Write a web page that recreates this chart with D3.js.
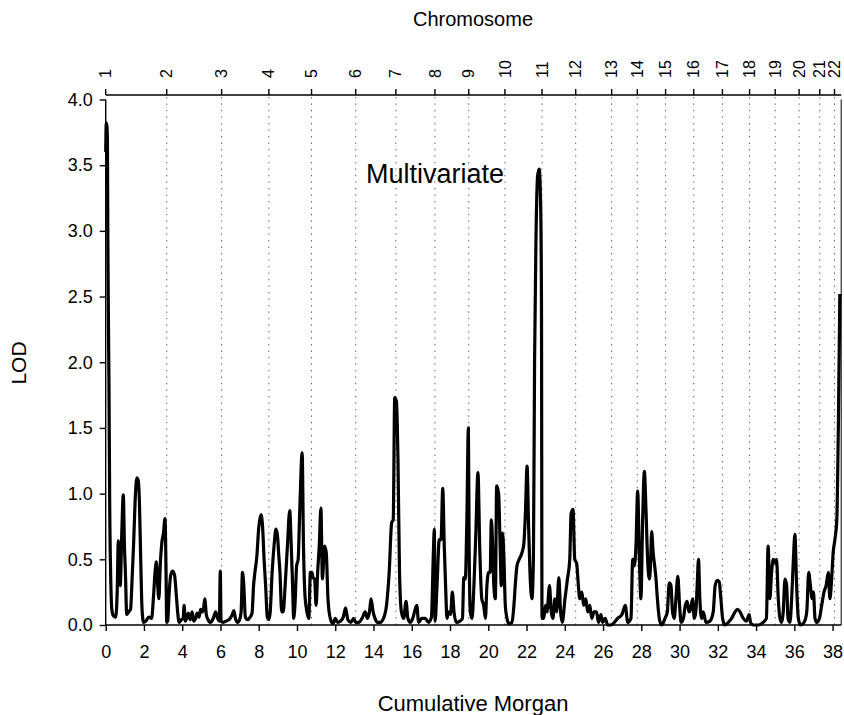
<!DOCTYPE html>
<html><head><meta charset="utf-8">
<script src="https://cdn.jsdelivr.net/npm/d3@7"></script>
<style>
body{margin:0;background:#fff;}
svg text{font-family:"Liberation Sans",Arial,Helvetica,sans-serif;fill:#000;}
</style></head>
<body>
<svg id="chart" width="844" height="715"></svg>
<script>
// ---- data ----
const chromosomes = ["1","2","3","4","5","6","7","8","9","10","11","12","13","14","15","16","17","18","19","20","21","22"];
const chromStarts = [0,3.19,6.06,8.53,10.76,13.07,15.17,17.21,18.98,20.87,22.81,24.57,26.45,27.79,29.27,30.74,32.24,33.66,35.0,36.25,37.33,38.10];
const xTicks = [0,2,4,6,8,10,12,14,16,18,20,22,24,26,28,30,32,34,36,38];
const yTicks = [0,0.5,1,1.5,2,2.5,3,3.5,4];
const morgan = [
0.00,0.03,0.06,0.09,0.11,0.13,0.17,0.21,0.26,0.32,0.40,0.52,0.60,0.66,0.71,0.76,0.84,0.92,0.98,1.03,1.10,1.20,1.30,1.38,1.46,1.54,1.63,1.70,1.76,1.83,1.90,1.98,2.10,2.25,2.40,2.50,2.58,2.65,2.72,2.78,2.85,2.93,3.02,3.10,3.15,3.19,
3.24,3.32,3.40,3.50,3.60,3.68,3.76,3.84,3.95,4.05,4.10,4.16,4.25,4.32,4.42,4.52,4.60,4.70,4.78,4.88,4.96,5.05,5.12,5.18,5.26,5.35,5.48,5.62,5.75,5.85,5.94,5.99,6.03,
6.15,6.30,6.50,6.62,6.70,6.78,6.88,7.00,7.08,7.15,7.22,7.30,7.42,7.55,7.65,7.73,7.80,7.90,8.00,8.12,8.20,8.28,8.36,8.45,8.53,
8.60,8.70,8.80,8.90,8.98,9.04,9.11,9.20,9.28,9.38,9.50,9.62,9.70,9.76,9.83,9.91,9.98,10.06,10.15,10.27,10.34,10.42,10.52,10.62,
10.70,10.78,10.84,10.92,11.00,11.08,11.17,11.25,11.33,11.44,11.53,11.62,11.74,11.88,12.00,12.12,12.28,12.42,12.54,12.66,12.82,12.96,13.07,
13.22,13.40,13.57,13.68,13.80,13.87,13.98,14.08,14.20,14.35,14.52,14.68,14.82,14.95,15.03,15.11,15.20,15.28,15.36,15.46,15.58,15.70,15.80,15.92,16.05,16.26,16.36,16.52,16.70,16.88,17.03,17.12,17.18,17.22,
17.32,17.44,17.53,17.62,17.70,17.78,17.84,17.92,18.03,18.12,18.21,18.32,18.52,18.65,18.72,18.80,18.88,18.96,19.00,
19.06,19.15,19.25,19.35,19.46,19.56,19.66,19.76,19.85,19.93,20.02,20.10,20.16,20.23,20.29,20.37,20.44,20.54,20.62,20.68,20.75,20.82,20.89,
20.98,21.06,21.24,21.34,21.42,21.50,21.62,21.76,21.86,21.94,22.03,22.10,22.18,22.28,22.36,22.42,22.49,22.58,22.66,22.73,22.78,22.81,
22.90,22.99,23.07,23.20,23.29,23.38,23.48,23.57,23.69,23.78,23.87,24.01,24.14,24.26,24.33,24.43,24.52,24.62,24.71,24.78,24.89,24.99,25.10,25.20,25.31,25.41,25.53,25.66,25.76,25.89,25.98,26.11,26.24,26.41,
26.59,26.76,26.99,27.16,27.29,27.46,27.55,27.63,27.72,27.81,27.90,27.98,28.07,28.16,28.24,28.33,28.42,28.48,28.54,28.62,28.70,28.77,28.84,28.94,29.06,29.24,29.36,29.46,29.55,29.63,29.72,29.81,29.91,30.00,30.08,
30.20,30.30,30.40,30.49,30.58,30.68,30.77,30.85,30.92,30.99,31.06,31.15,31.24,31.38,31.59,31.76,31.86,31.97,32.07,32.16,32.25,32.37,32.55,32.72,32.90,33.02,33.16,33.33,33.50,33.64,33.71,33.85,34.11,34.37,34.54,
34.63,34.72,34.81,34.90,34.99,35.07,35.16,35.25,35.34,35.42,35.51,35.60,35.67,35.77,35.86,35.95,36.03,36.12,36.21,36.33,36.51,36.65,36.75,36.84,36.93,37.00,37.08,37.17,37.31,37.43,37.55,37.66,37.78,37.86,37.95,38.03,38.12,38.22,38.30,38.38
];
const lod = [
3.60,3.82,3.80,3.70,3.00,2.55,1.85,0.90,0.38,0.12,0.07,0.06,0.25,0.64,0.45,0.30,0.70,0.99,0.60,0.40,0.08,0.10,0.12,0.35,0.62,0.95,1.12,1.10,0.95,0.50,0.12,0.02,0.03,0.06,0.05,0.22,0.40,0.48,0.30,0.20,0.45,0.62,0.70,0.81,0.45,0.02,
0.03,0.25,0.38,0.41,0.38,0.25,0.10,0.02,0.04,0.05,0.15,0.03,0.06,0.09,0.04,0.10,0.03,0.05,0.09,0.06,0.12,0.10,0.13,0.20,0.08,0.04,0.02,0.05,0.10,0.05,0.03,0.41,0.03,
0.02,0.03,0.05,0.08,0.11,0.05,0.02,0.04,0.10,0.40,0.30,0.06,0.04,0.06,0.09,0.30,0.40,0.52,0.74,0.84,0.75,0.50,0.30,0.06,0.04,
0.10,0.40,0.60,0.73,0.68,0.55,0.40,0.10,0.10,0.30,0.60,0.87,0.60,0.35,0.05,0.20,0.45,0.50,0.90,1.31,0.60,0.22,0.10,0.05,
0.40,0.40,0.36,0.35,0.15,0.40,0.62,0.89,0.35,0.60,0.55,0.20,0.05,0.01,0.05,0.02,0.03,0.06,0.13,0.04,0.02,0.05,0.02,
0.02,0.05,0.10,0.05,0.11,0.20,0.10,0.05,0.02,0.02,0.05,0.15,0.40,0.78,0.80,1.73,1.70,1.25,0.40,0.10,0.05,0.18,0.05,0.02,0.05,0.15,0.02,0.05,0.05,0.02,0.06,0.50,0.73,0.03,
0.30,0.65,0.65,1.04,0.60,0.25,0.05,0.10,0.08,0.25,0.10,0.02,0.03,0.05,0.36,0.35,0.80,1.50,0.60,
0.10,0.05,0.30,0.70,1.16,0.55,0.20,0.15,0.05,0.30,0.40,0.40,0.80,0.60,0.30,0.20,1.06,1.00,0.60,0.30,0.70,0.50,0.15,
0.05,0.01,0.02,0.15,0.32,0.45,0.50,0.55,0.62,0.85,1.21,0.80,0.40,0.20,0.50,2.00,2.90,3.42,3.47,3.25,2.50,0.05,
0.05,0.15,0.10,0.30,0.10,0.05,0.20,0.10,0.36,0.10,0.02,0.20,0.35,0.50,0.85,0.88,0.50,0.47,0.30,0.20,0.25,0.15,0.20,0.10,0.15,0.05,0.10,0.10,0.02,0.08,0.02,0.05,0.00,0.00,
0.02,0.05,0.08,0.15,0.02,0.05,0.50,0.45,0.60,1.02,0.50,0.20,0.80,1.17,0.90,0.50,0.35,0.45,0.71,0.55,0.45,0.35,0.20,0.05,0.00,0.05,0.10,0.32,0.30,0.10,0.05,0.20,0.37,0.15,0.02,
0.05,0.15,0.18,0.10,0.12,0.20,0.05,0.10,0.30,0.50,0.20,0.05,0.10,0.02,0.03,0.10,0.30,0.34,0.33,0.20,0.05,0.00,0.02,0.05,0.10,0.12,0.10,0.05,0.03,0.08,0.02,0.00,0.00,0.02,0.05,
0.60,0.20,0.40,0.50,0.47,0.50,0.20,0.05,0.02,0.10,0.35,0.30,0.05,0.02,0.20,0.50,0.69,0.30,0.05,0.00,0.02,0.10,0.40,0.30,0.20,0.25,0.05,0.02,0.05,0.15,0.25,0.30,0.40,0.20,0.35,0.55,0.65,0.80,1.50,2.52
];

// ---- chart ----
const svg = d3.select("#chart");
const x = d3.scaleLinear().domain([0, 38.45]).range([105.7, 841.2]);
const y = d3.scaleLinear().domain([0, 4]).range([625, 99.5]);
const topY = 95;
const font = "Liberation Sans, Arial, sans-serif";

// chromosome dotted lines
svg.append("g").selectAll("line").data(chromStarts.slice(1)).join("line")
  .attr("x1", d => x(d)).attr("x2", d => x(d))
  .attr("y1", topY + 2).attr("y2", y(0))
  .attr("stroke", "#555").attr("stroke-width", 1)
  .attr("stroke-dasharray", "1.3,5.2");

// right frame line
svg.append("line").attr("x1", x(38.45)).attr("x2", x(38.45))
  .attr("y1", y(4)).attr("y2", y(0)).attr("stroke", "#000").attr("stroke-width", 1);

// left axis
const yAxis = d3.axisLeft(y).tickValues(yTicks).tickFormat(d3.format(".1f")).tickSize(6).tickPadding(7);
const gy = svg.append("g").attr("transform", `translate(${x(0)},0)`).call(yAxis);
gy.select(".domain").remove();
gy.append("line").attr("y1", y(4)).attr("y2", y(0)).attr("stroke", "#000").attr("stroke-width", 1.4);
gy.selectAll("text").attr("font-size", 18).attr("font-family", font);
gy.selectAll(".tick line").attr("stroke-width", 1.4);

// bottom axis
const xAxis = d3.axisBottom(x).tickValues(xTicks).tickFormat(d3.format("d")).tickSize(6).tickPadding(14);
const gx = svg.append("g").attr("transform", `translate(0,${y(0)})`).call(xAxis);
gx.select(".domain").remove();
gx.append("line").attr("x1", x(0)).attr("x2", x(38.45)).attr("stroke", "#000").attr("stroke-width", 1.4);
gx.selectAll("text").attr("font-size", 18).attr("font-family", font);
gx.selectAll(".tick line").attr("stroke-width", 1.4);

// top chromosome axis
const topScale = d3.scaleOrdinal().domain(chromosomes).range(chromStarts.map(d => x(d)));
const gt = svg.append("g");
gt.append("line").attr("x1", x(0)).attr("x2", x(38.45)).attr("y1", topY).attr("y2", topY)
  .attr("stroke", "#000").attr("stroke-width", 1.4);
gt.selectAll("line.t").data(chromosomes).join("line").attr("class","t")
  .attr("x1", d => topScale(d)).attr("x2", d => topScale(d))
  .attr("y1", topY).attr("y2", topY - 6).attr("stroke", "#000").attr("stroke-width", 1.4);
gt.selectAll("text").data(chromosomes).join("text")
  .attr("transform", d => `translate(${topScale(d)},78) rotate(-90)`)
  .attr("dy", "0.35em").attr("text-anchor", "start")
  .attr("font-size", 16).text(d => d);

// curve
const pts = morgan.map((m, i) => [m, lod[i]]);
const line = d3.line().x(d => x(d[0])).y(d => y(d[1])).curve(d3.curveMonotoneX);
svg.append("path").datum(pts).attr("d", line)
  .attr("fill", "none").attr("stroke", "#000").attr("stroke-width", 3.2)
  .attr("stroke-linejoin", "round");

// titles
svg.append("text").attr("x", 473).attr("y", 26).attr("text-anchor", "middle").attr("font-size", 20).text("Chromosome");
svg.append("text").attr("x", 473).attr("y", 711).attr("text-anchor", "middle").attr("font-size", 22).text("Cumulative Morgan");
svg.append("text").attr("transform", "translate(26,363) rotate(-90)").attr("text-anchor", "middle").attr("font-size", 21).text("LOD");
svg.append("text").attr("x", 435).attr("y", 183).attr("text-anchor", "middle").attr("font-size", 27).text("Multivariate");
</script>
</body></html>
